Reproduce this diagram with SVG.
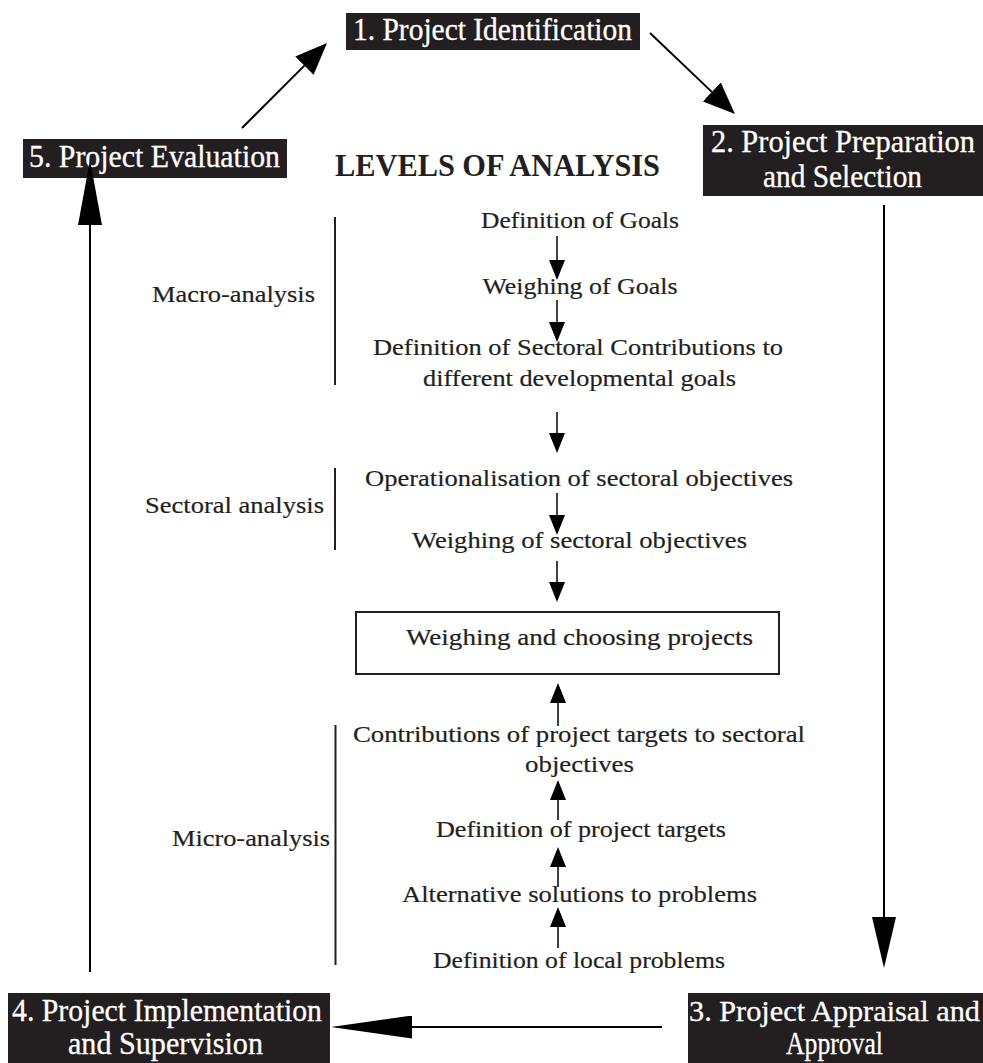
<svg xmlns="http://www.w3.org/2000/svg" width="983" height="1063" viewBox="0 0 983 1063">
  <style>
    .bg { fill: #ffffff; }
    .stage rect { fill: #231f20; }
    .stage text { fill: #ffffff; stroke: #ffffff; stroke-width: 0.3; font-family: "Liberation Serif", "Times New Roman", serif; font-size: 31px; text-anchor: middle; }
    .stage text.fit { font-size: 30px; }
    .lbl { fill: #231f20; stroke: #231f20; stroke-width: 0.2; font-family: "Liberation Serif", "Times New Roman", serif; font-size: 24px; text-anchor: middle; }
    .title { fill: #231f20; font-family: "Liberation Serif", "Times New Roman", serif; font-size: 31px; font-weight: bold; text-anchor: middle; }
    .bar { stroke: #231f20; stroke-width: 2; fill: none; }
    .flow { stroke: #000000; stroke-width: 1.5; fill: none; }
    .cycle { stroke: #000000; stroke-width: 2; fill: none; }
    .box { fill: #ffffff; stroke: #231f20; stroke-width: 2; }
    .head { fill: #000000; }
  </style>
  <defs>
    <marker id="head-s" markerUnits="userSpaceOnUse" viewBox="0 0 20 16" markerWidth="20" markerHeight="16" refX="0" refY="8" orient="auto">
      <path class="head" d="M0,0 L20,8 L0,16 z"/>
    </marker>
    <marker id="head-d" markerUnits="userSpaceOnUse" viewBox="0 0 32 26" markerWidth="32" markerHeight="26" refX="0" refY="13" orient="auto">
      <path class="head" d="M0,0 L32,13 L0,26 z"/>
    </marker>
    <marker id="head-v" markerUnits="userSpaceOnUse" viewBox="0 0 51 24" markerWidth="51" markerHeight="24" refX="0" refY="12" orient="auto">
      <path class="head" d="M0,0 L51,12 L0,24 z"/>
    </marker>
    <marker id="head-l" markerUnits="userSpaceOnUse" viewBox="0 0 65 24" markerWidth="65" markerHeight="24" refX="0" refY="12" orient="auto">
      <path class="head" d="M0,0 L65,12 L0,24 z"/>
    </marker>
    <marker id="head-h" markerUnits="userSpaceOnUse" viewBox="0 0 81 23" markerWidth="81" markerHeight="23" refX="0" refY="11.5" orient="auto">
      <path class="head" d="M0,0 L81,11.5 L0,23 z"/>
    </marker>
  </defs>

  <rect class="bg" x="0" y="0" width="983" height="1063"/>

  <!-- project cycle stages -->
  <g id="stage1" class="stage">
    <rect x="346" y="13" width="294" height="37"/>
    <text x="492.5" y="40" textLength="279" lengthAdjust="spacingAndGlyphs">1. Project Identification</text>
  </g>
  <g id="stage2" class="stage">
    <rect x="703" y="125" width="280" height="71"/>
    <text x="843" y="152" textLength="264" lengthAdjust="spacingAndGlyphs">2. Project Preparation</text>
    <text x="842.5" y="187" textLength="159" lengthAdjust="spacingAndGlyphs">and Selection</text>
  </g>
  <g id="stage3" class="stage">
    <rect x="688" y="993" width="295" height="70"/>
    <text class="fit" x="834.5" y="1021" textLength="291" lengthAdjust="spacingAndGlyphs">3. Project Appraisal and</text>
    <text x="834.5" y="1054" textLength="97" lengthAdjust="spacingAndGlyphs">Approval</text>
  </g>
  <g id="stage4" class="stage">
    <rect x="8" y="993" width="322" height="70"/>
    <text x="167" y="1021" textLength="310" lengthAdjust="spacingAndGlyphs">4. Project Implementation</text>
    <text x="165.5" y="1054" textLength="195" lengthAdjust="spacingAndGlyphs">and Supervision</text>
  </g>
  <g id="stage5" class="stage">
    <rect x="23" y="139" width="264" height="39"/>
    <text x="154.5" y="167" textLength="251" lengthAdjust="spacingAndGlyphs">5. Project Evaluation</text>
  </g>

  <!-- heading -->
  <g id="heading">
    <text class="title" x="497.5" y="176" textLength="325" lengthAdjust="spacingAndGlyphs">LEVELS OF ANALYSIS</text>
  </g>

  <!-- analysis levels with brackets -->
  <g id="level-macro">
    <line class="bar" x1="335" y1="217" x2="335" y2="385"/>
    <text class="lbl" x="233.5" y="302" textLength="163" lengthAdjust="spacingAndGlyphs">Macro-analysis</text>
  </g>
  <g id="level-sectoral">
    <line class="bar" x1="335" y1="468" x2="335" y2="550"/>
    <text class="lbl" x="234.5" y="513" textLength="179" lengthAdjust="spacingAndGlyphs">Sectoral analysis</text>
  </g>
  <g id="level-micro">
    <line class="bar" x1="335.5" y1="725" x2="335.5" y2="965"/>
    <text class="lbl" x="251" y="846" textLength="158" lengthAdjust="spacingAndGlyphs">Micro-analysis</text>
  </g>

  <!-- steps -->
  <g id="def-goals">
    <text class="lbl" x="580" y="228" textLength="198" lengthAdjust="spacingAndGlyphs">Definition of Goals</text>
  </g>
  <g id="weigh-goals">
    <text class="lbl" x="580" y="294" textLength="195" lengthAdjust="spacingAndGlyphs">Weighing of Goals</text>
  </g>
  <g id="sector-contrib">
    <text class="lbl" x="578" y="355" textLength="410" lengthAdjust="spacingAndGlyphs">Definition of Sectoral Contributions to</text>
    <text class="lbl" x="579.5" y="386" textLength="313" lengthAdjust="spacingAndGlyphs">different developmental goals</text>
  </g>
  <g id="oper-obj">
    <text class="lbl" x="579" y="486" textLength="428" lengthAdjust="spacingAndGlyphs">Operationalisation of sectoral objectives</text>
  </g>
  <g id="weigh-obj">
    <text class="lbl" x="579.5" y="548" textLength="335" lengthAdjust="spacingAndGlyphs">Weighing of sectoral objectives</text>
  </g>
  <g id="choose">
    <rect class="box" x="356" y="612" width="423" height="62"/>
    <text class="lbl" x="579.5" y="645" textLength="347" lengthAdjust="spacingAndGlyphs">Weighing and choosing projects</text>
  </g>
  <g id="contrib-targets">
    <text class="lbl" x="579" y="742" textLength="452" lengthAdjust="spacingAndGlyphs">Contributions of project targets to sectoral</text>
    <text class="lbl" x="579.5" y="772" textLength="109" lengthAdjust="spacingAndGlyphs">objectives</text>
  </g>
  <g id="def-targets">
    <text class="lbl" x="581" y="837" textLength="290" lengthAdjust="spacingAndGlyphs">Definition of project targets</text>
  </g>
  <g id="alt-solutions">
    <text class="lbl" x="579.5" y="902" textLength="355" lengthAdjust="spacingAndGlyphs">Alternative solutions to problems</text>
  </g>
  <g id="local-problems">
    <text class="lbl" x="579" y="968" textLength="292" lengthAdjust="spacingAndGlyphs">Definition of local problems</text>
  </g>

  <!-- connectors -->
  <g id="connectors">
    <!-- downward flow -->
    <line class="flow" x1="557" y1="236" x2="557" y2="260" marker-end="url(#head-s)"/>
    <line class="flow" x1="557" y1="300" x2="557" y2="322" marker-end="url(#head-s)"/>
    <line class="flow" x1="557" y1="412" x2="557" y2="433" marker-end="url(#head-s)"/>
    <line class="flow" x1="557" y1="493" x2="557" y2="515" marker-end="url(#head-s)"/>
    <line class="flow" x1="557" y1="561" x2="557" y2="582" marker-end="url(#head-s)"/>
    <!-- upward flow -->
    <line class="flow" x1="558" y1="726" x2="558" y2="703" marker-end="url(#head-s)"/>
    <line class="flow" x1="558" y1="820" x2="558" y2="800" marker-end="url(#head-s)"/>
    <line class="flow" x1="558" y1="887" x2="558" y2="867" marker-end="url(#head-s)"/>
    <line class="flow" x1="558" y1="948" x2="558" y2="927" marker-end="url(#head-s)"/>
    <!-- project cycle -->
    <line class="cycle" x1="650" y1="33" x2="711.8" y2="91.9" marker-end="url(#head-d)"/>
    <line class="cycle" x1="884" y1="205" x2="884" y2="917" marker-end="url(#head-v)"/>
    <line class="cycle" x1="662" y1="1027" x2="412" y2="1027" marker-end="url(#head-h)"/>
    <line class="cycle" x1="90" y1="972" x2="90" y2="225" marker-end="url(#head-l)"/>
    <line class="cycle" x1="242" y1="128" x2="304.4" y2="65.6" marker-end="url(#head-d)"/>
  </g>
</svg>
